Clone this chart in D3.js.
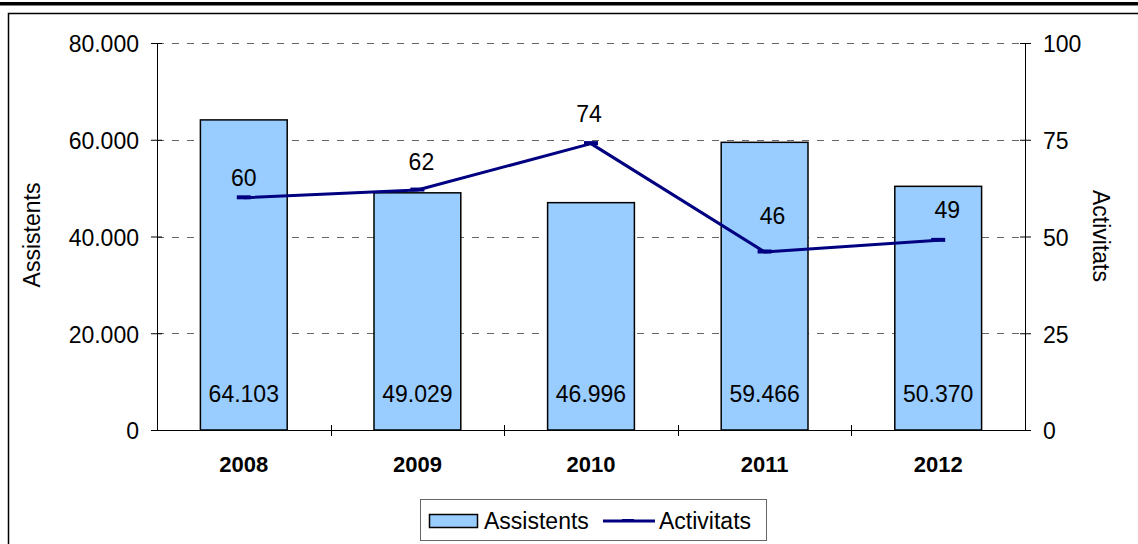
<!DOCTYPE html>
<html><head><meta charset="utf-8">
<script src="https://cdn.jsdelivr.net/npm/d3@7"></script>
<style>
body{margin:0;background:#fff;}
text{font-family:"Liberation Sans",Arial,sans-serif;}
</style></head>
<body>
<svg id="c" width="1138" height="544"></svg>
<script>
const years = ["2008","2009","2010","2011","2012"];
const assistents = [64103, 49029, 46996, 59466, 50370];
const activitats = [60, 62, 74, 46, 49];
const leftTicks = [0, 20000, 40000, 60000, 80000];
const rightTicks = [0, 25, 50, 75, 100];

const svg = d3.select("#c");
const W = 1138, H = 544;
const m = {l:157, r:1025, t:43, b:430};
const FS = 23;
// manual label placement (as in the original), px offsets from each point
const lineLabelDx = [0, 4, -2, 8, 9];
const lineLabelDy = [-12, -20, -22, -28, -22];

// top thick line and frame
svg.append("rect").attr("x",0).attr("y",2).attr("width",W).attr("height",3.5).attr("fill","#000");
svg.append("rect").attr("x",8.5).attr("y",13.5).attr("width",W+10).attr("height",H).attr("fill","none").attr("stroke","#000").attr("stroke-width",1.5);

const fmt = d3.format(",.0f");
const deFmt = v => fmt(v).replace(/,/g,".");

const x = d3.scaleBand().domain(years).range([m.l, m.r]).paddingInner(0.5).paddingOuter(0.25);
const xb = d3.scaleBand().domain(years).range([m.l, m.r]);
const yL = d3.scaleLinear().domain([0,80000]).range([m.b, m.t]);
const yR = d3.scaleLinear().domain([0,100]).range([m.b, m.t]);

// gridlines
svg.append("g").selectAll("line").data(leftTicks.filter(d=>d>0)).join("line")
  .attr("x1",m.l).attr("x2",m.r).attr("y1",d=>Math.round(yL(d))+0.5).attr("y2",d=>Math.round(yL(d))+0.5)
  .attr("stroke","#666").attr("stroke-dasharray","7,8").attr("stroke-width",1);

// bars
svg.append("g").selectAll("rect").data(years).join("rect")
  .attr("x",(d)=>x(d)).attr("width",x.bandwidth())
  .attr("y",(d,i)=>yL(assistents[i])).attr("height",(d,i)=>m.b-yL(assistents[i]))
  .attr("fill","#99CCFF").attr("stroke","#000").attr("stroke-width",1.5);

// bar labels
svg.append("g").selectAll("text").data(years).join("text")
  .attr("x",d=>x(d)+x.bandwidth()/2).attr("y",402).attr("text-anchor","middle")
  .attr("font-size",FS).attr("fill","#000").text((d,i)=>deFmt(assistents[i]));

// left axis
const gL = svg.append("g").attr("transform",`translate(${m.l},0)`)
  .call(d3.axisLeft(yL).tickValues(leftTicks).tickFormat(deFmt).tickSizeInner(5).tickSizeOuter(0));
gL.select(".domain").attr("stroke","#000");
gL.selectAll(".tick line").attr("x1",-6).attr("x2",5).attr("stroke","#000");
gL.selectAll(".tick text").attr("font-size",FS).attr("x",-18).attr("dy","0.38em").attr("fill","#000").style("font-family","Liberation Sans, Arial, sans-serif");

// right axis
const gR = svg.append("g").attr("transform",`translate(${m.r},0)`)
  .call(d3.axisRight(yR).tickValues(rightTicks).tickSizeInner(5).tickSizeOuter(0));
gR.select(".domain").attr("stroke","#000");
gR.selectAll(".tick line").attr("x1",-5).attr("x2",6).attr("stroke","#000");
gR.selectAll(".tick text").attr("font-size",FS).attr("x",18).attr("dy","0.38em").attr("fill","#000").style("font-family","Liberation Sans, Arial, sans-serif");

// bottom axis
svg.append("line").attr("x1",m.l).attr("x2",m.r).attr("y1",m.b+0.5).attr("y2",m.b+0.5).attr("stroke","#000");
const bounds = years.slice(1).map(d=>xb(d));
svg.append("g").selectAll("line").data(bounds).join("line")
  .attr("x1",d=>Math.round(d)+0.5).attr("x2",d=>Math.round(d)+0.5).attr("y1",m.b-5).attr("y2",m.b+6).attr("stroke","#000");
svg.append("g").selectAll("text").data(years).join("text")
  .attr("x",d=>xb(d)+xb.bandwidth()/2).attr("y",472).attr("text-anchor","middle")
  .attr("font-size",22).attr("font-weight","bold").text(d=>d);

// line
const cx = d => xb(d)+xb.bandwidth()/2;
const line = d3.line().x((d,i)=>cx(years[i])).y(d=>yR(d));
svg.append("path").datum(activitats).attr("d",line).attr("fill","none")
  .attr("stroke","#000080").attr("stroke-width",3).attr("stroke-linejoin","round");
svg.append("g").selectAll("rect").data(activitats).join("rect")
  .attr("x",(d,i)=>cx(years[i])-7).attr("y",d=>yR(d)-2.5).attr("width",14).attr("height",4).attr("fill","#000080");
svg.append("g").selectAll("text").data(activitats).join("text")
  .attr("x",(d,i)=>cx(years[i])+lineLabelDx[i]).attr("y",(d,i)=>yR(d)+lineLabelDy[i]).attr("text-anchor","middle")
  .attr("font-size",FS).text(d=>d);

// axis titles
svg.append("text").attr("transform","translate(40,235) rotate(-90)").attr("text-anchor","middle").attr("font-size",FS).text("Assistents");
svg.append("text").attr("transform","translate(1093,236) rotate(90)").attr("text-anchor","middle").attr("font-size",FS).text("Activitats");

// legend
const lg = svg.append("g");
lg.append("rect").attr("x",420.5).attr("y",499.5).attr("width",346).attr("height",41).attr("fill","#fff").attr("stroke","#666").attr("stroke-width",1);
lg.append("rect").attr("x",429.5).attr("y",514.5).attr("width",48).attr("height",13).attr("fill","#99CCFF").attr("stroke","#000").attr("stroke-width",1.5);
lg.append("text").attr("x",484).attr("y",529).attr("font-size",FS).text("Assistents");
lg.append("line").attr("x1",603).attr("x2",655).attr("y1",521).attr("y2",521).attr("stroke","#000080").attr("stroke-width",3);
lg.append("rect").attr("x",622).attr("y",519).attr("width",12).attr("height",3).attr("fill","#000080");
lg.append("text").attr("x",659).attr("y",529).attr("font-size",FS).text("Activitats");
</script>
</body></html>
